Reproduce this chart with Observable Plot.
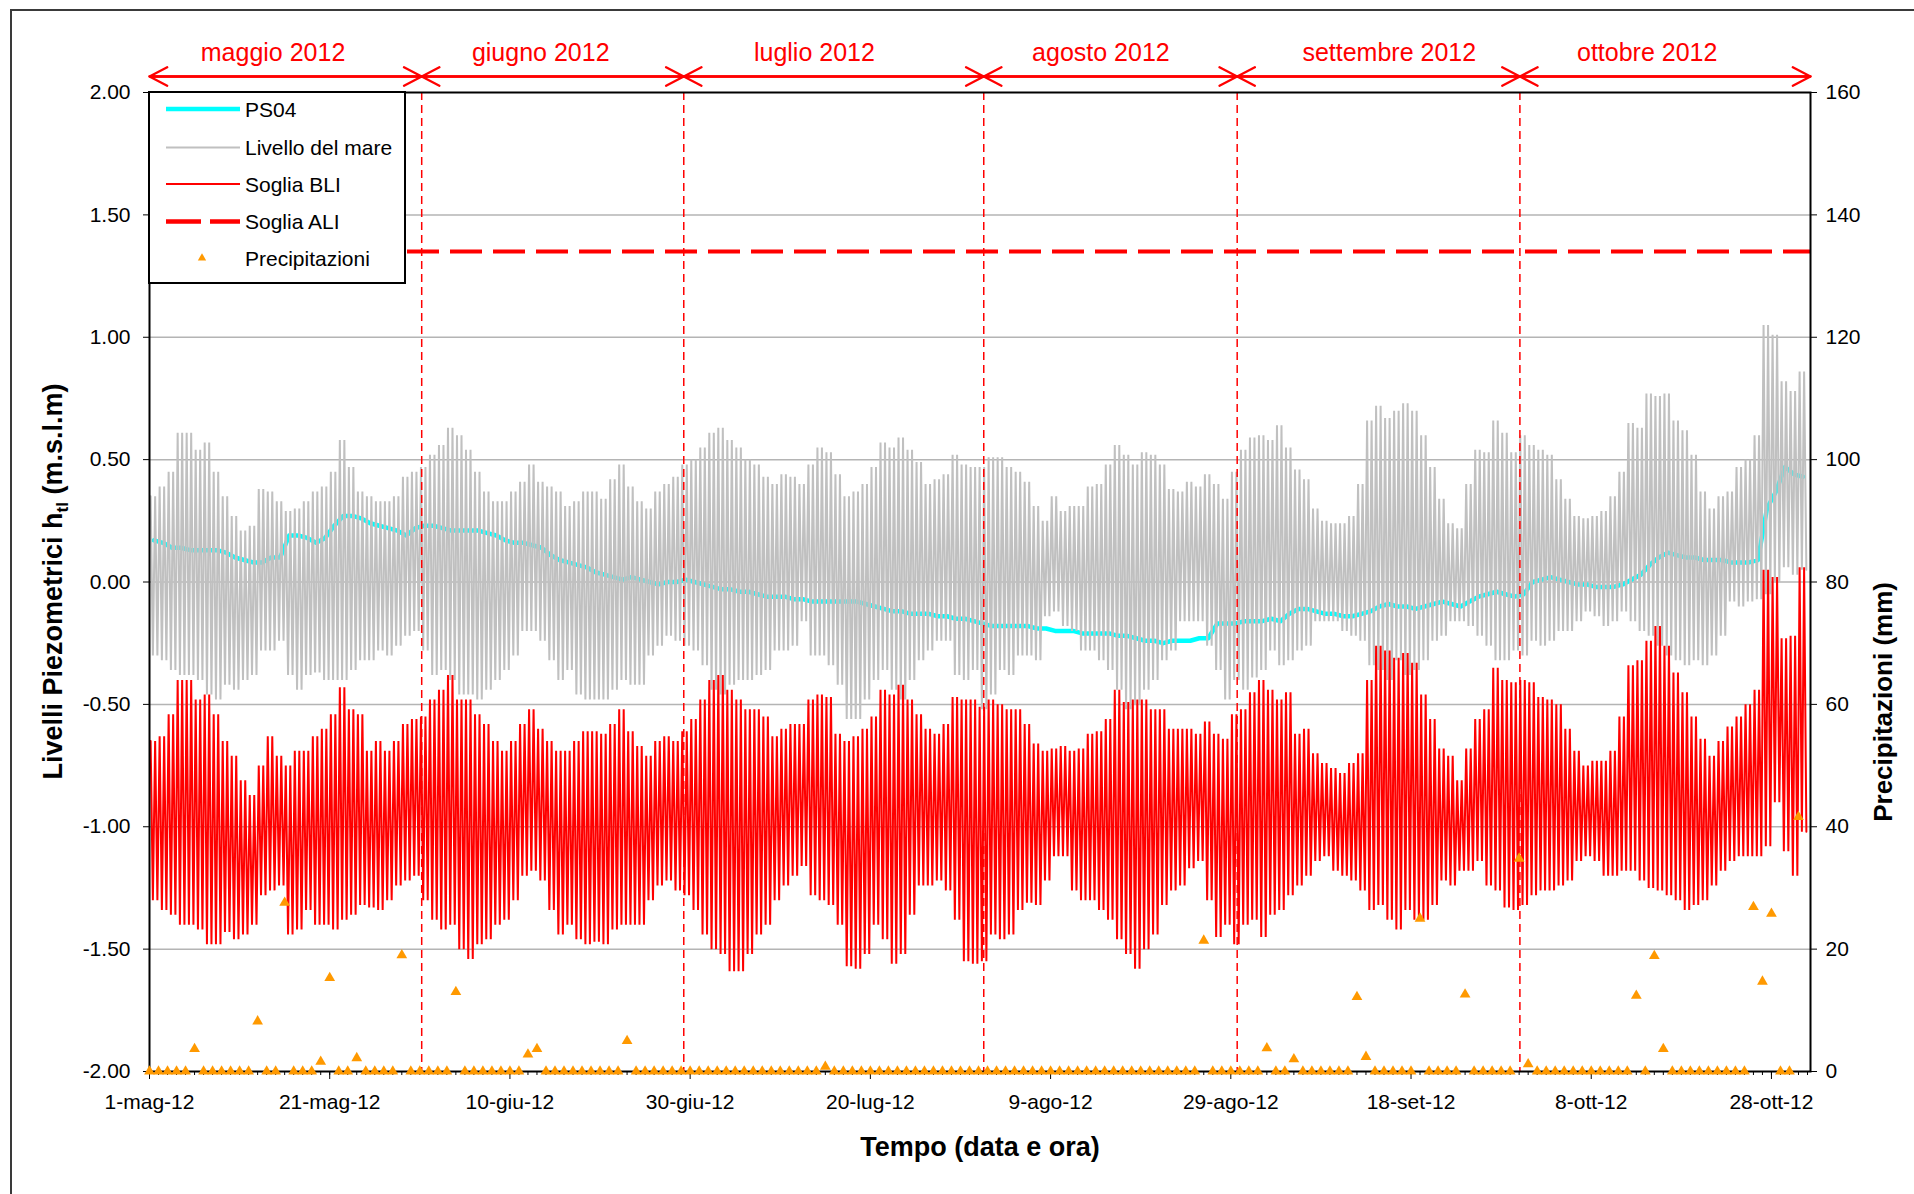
<!DOCTYPE html>
<html>
<head>
<meta charset="utf-8">
<script src="https://cdn.jsdelivr.net/npm/d3@7"></script>
<script src="https://cdn.jsdelivr.net/npm/@observablehq/plot@0.6"></script>
<style>
html, body { margin: 0; padding: 0; background: #fff; }
#wrap { position: relative; width: 1914px; height: 1194px; overflow: hidden; background: #fff; }
#border { position: absolute; left: 10px; top: 9px; width: 3000px; height: 3000px;
  border-left: 2.5px solid #3a3a3a; border-top: 2.5px solid #3a3a3a; pointer-events: none; }
#legend { position: absolute; left: 148px; top: 91px; }
</style>
</head>
<body>
<div id="wrap"><div id="chart"></div><svg id="legend" width="260" height="195"></svg><div id="border"></div></div>
<script>
// ---------- data ----------
const startDay = "2012-05-01T00:00Z";
const domainEnd = "2012-11-01T08:00Z";
const monthAbbr = ["gen","feb","mar","apr","mag","giu","lug","ago","set","ott","nov","dic"];
const tickDates = ["2012-05-01","2012-05-21","2012-06-10","2012-06-30","2012-07-20","2012-08-09","2012-08-29","2012-09-18","2012-10-08","2012-10-28"];
const yTicks = [-2, -1.5, -1, -0.5, 0, 0.5, 1, 1.5, 2];
const precipTicks = [0, 20, 40, 60, 80, 100, 120, 140, 160];
const yDomain = [-2, 2];
const precipDomain = [0, 160];
const monthNames = ["maggio 2012","giugno 2012","luglio 2012","agosto 2012","settembre 2012","ottobre 2012"];
const monthLabelAt = ["2012-05-14T17:00Z","2012-06-13T10:00Z","2012-07-13T19:00Z","2012-08-14T14:00Z","2012-09-15T14:00Z","2012-10-14T05:00Z"];
const monthBounds = ["2012-05-01T00:00Z","2012-05-31T05:00Z","2012-06-29T07:00Z","2012-08-01T14:00Z","2012-08-29T17:00Z","2012-09-30T02:00Z","2012-11-01T08:00Z"];
const aliLevel = 1.35;
const legendLabels = ["PS04","Livello del mare","Soglia BLI","Soglia ALI","Precipitazioni"];

// daily high / low of sea level (m), 1 May .. 31 Oct
const seaHi = [
0.35,0.39,0.45,0.61,0.61,0.54,0.57,0.45,0.35,0.27,
0.21,0.23,0.38,0.37,0.33,0.29,0.30,0.33,0.37,0.39,
0.45,0.58,0.47,0.37,0.35,0.33,0.33,0.35,0.43,0.45,
0.47,0.52,0.56,0.63,0.60,0.54,0.45,0.37,0.33,0.33,
0.37,0.41,0.48,0.41,0.39,0.37,0.31,0.33,0.37,0.37,
0.34,0.42,0.48,0.39,0.33,0.30,0.37,0.40,0.43,0.48,
0.50,0.55,0.61,0.63,0.58,0.55,0.50,0.48,0.43,0.40,
0.44,0.43,0.40,0.48,0.55,0.53,0.44,0.35,0.37,0.40,
0.47,0.57,0.55,0.59,0.54,0.49,0.40,0.42,0.44,0.52,
0.48,0.47,0.47,0.51,0.51,0.47,0.45,0.41,0.31,0.25,
0.35,0.29,0.31,0.31,0.39,0.40,0.48,0.56,0.52,0.48,
0.53,0.52,0.48,0.38,0.37,0.41,0.39,0.44,0.40,0.34,
0.45,0.54,0.59,0.60,0.58,0.64,0.55,0.46,0.42,0.30,
0.25,0.24,0.24,0.27,0.40,0.66,0.72,0.67,0.70,0.73,
0.70,0.60,0.47,0.34,0.24,0.22,0.40,0.54,0.53,0.66,
0.61,0.53,0.60,0.56,0.54,0.52,0.42,0.34,0.27,0.26,
0.27,0.29,0.35,0.45,0.65,0.63,0.77,0.76,0.77,0.66,
0.62,0.52,0.37,0.30,0.35,0.37,0.47,0.50,0.60,1.05,
1.01,0.82,0.78,0.86];
const seaLo = [
-0.30,-0.32,-0.36,-0.38,-0.38,-0.40,-0.46,-0.48,-0.42,-0.44,
-0.40,-0.38,-0.28,-0.28,-0.24,-0.38,-0.44,-0.38,-0.37,-0.40,
-0.40,-0.40,-0.36,-0.32,-0.32,-0.28,-0.30,-0.26,-0.22,-0.20,
-0.28,-0.38,-0.36,-0.40,-0.46,-0.46,-0.48,-0.44,-0.40,-0.36,
-0.30,-0.20,-0.20,-0.24,-0.32,-0.40,-0.36,-0.46,-0.48,-0.48,
-0.48,-0.44,-0.40,-0.42,-0.42,-0.30,-0.26,-0.22,-0.24,-0.26,
-0.28,-0.34,-0.44,-0.46,-0.42,-0.40,-0.40,-0.38,-0.36,-0.28,
-0.28,-0.26,-0.16,-0.30,-0.30,-0.34,-0.42,-0.56,-0.56,-0.48,
-0.40,-0.36,-0.44,-0.48,-0.40,-0.32,-0.28,-0.24,-0.24,-0.38,
-0.40,-0.36,-0.52,-0.46,-0.36,-0.38,-0.30,-0.30,-0.32,-0.14,
-0.12,-0.18,-0.20,-0.28,-0.28,-0.32,-0.36,-0.44,-0.52,-0.50,
-0.44,-0.40,-0.32,-0.28,-0.16,-0.16,-0.16,-0.26,-0.36,-0.48,
-0.40,-0.44,-0.39,-0.36,-0.28,-0.34,-0.32,-0.28,-0.26,-0.16,
-0.16,-0.16,-0.20,-0.22,-0.24,-0.34,-0.36,-0.40,-0.32,-0.38,
-0.36,-0.32,-0.24,-0.22,-0.16,-0.16,-0.18,-0.22,-0.26,-0.32,
-0.32,-0.28,-0.30,-0.24,-0.26,-0.24,-0.20,-0.20,-0.16,-0.12,
-0.14,-0.18,-0.16,-0.12,-0.16,-0.20,-0.22,-0.26,-0.30,-0.32,
-0.34,-0.32,-0.34,-0.30,-0.22,-0.08,-0.10,-0.08,-0.07,-0.05,
0.00,0.06,0.03,0.05];
// daily high / low of Soglia BLI (m)
const bliHi = [
-0.65,-0.63,-0.54,-0.40,-0.40,-0.48,-0.46,-0.54,-0.65,-0.71,
-0.81,-0.87,-0.75,-0.63,-0.71,-0.75,-0.69,-0.69,-0.63,-0.60,
-0.54,-0.43,-0.52,-0.54,-0.69,-0.65,-0.69,-0.65,-0.58,-0.56,
-0.55,-0.48,-0.44,-0.38,-0.48,-0.48,-0.54,-0.58,-0.65,-0.69,
-0.65,-0.58,-0.52,-0.60,-0.65,-0.69,-0.69,-0.65,-0.61,-0.61,
-0.62,-0.58,-0.52,-0.61,-0.67,-0.71,-0.65,-0.63,-0.65,-0.61,
-0.56,-0.48,-0.40,-0.38,-0.44,-0.48,-0.52,-0.52,-0.55,-0.63,
-0.60,-0.58,-0.58,-0.48,-0.46,-0.47,-0.62,-0.65,-0.63,-0.60,
-0.55,-0.44,-0.46,-0.42,-0.48,-0.54,-0.60,-0.62,-0.58,-0.47,
-0.48,-0.48,-0.51,-0.48,-0.50,-0.52,-0.52,-0.58,-0.66,-0.69,
-0.68,-0.67,-0.69,-0.68,-0.62,-0.61,-0.56,-0.44,-0.49,-0.48,
-0.48,-0.52,-0.52,-0.60,-0.60,-0.60,-0.62,-0.57,-0.62,-0.64,
-0.54,-0.52,-0.45,-0.40,-0.44,-0.48,-0.45,-0.62,-0.60,-0.70,
-0.74,-0.76,-0.78,-0.74,-0.70,-0.40,-0.26,-0.28,-0.31,-0.29,
-0.33,-0.46,-0.56,-0.68,-0.71,-0.81,-0.68,-0.56,-0.52,-0.35,
-0.40,-0.41,-0.40,-0.41,-0.47,-0.48,-0.50,-0.60,-0.69,-0.75,
-0.73,-0.73,-0.69,-0.55,-0.34,-0.32,-0.24,-0.18,-0.26,-0.37,
-0.45,-0.55,-0.64,-0.71,-0.65,-0.59,-0.55,-0.50,-0.44,0.05,
0.02,-0.23,-0.22,0.06];
const bliLo = [
-1.30,-1.34,-1.36,-1.40,-1.40,-1.42,-1.48,-1.48,-1.43,-1.46,
-1.44,-1.40,-1.28,-1.26,-1.24,-1.44,-1.42,-1.34,-1.40,-1.40,
-1.42,-1.38,-1.36,-1.32,-1.33,-1.34,-1.30,-1.24,-1.22,-1.20,
-1.30,-1.38,-1.42,-1.40,-1.50,-1.54,-1.48,-1.46,-1.40,-1.38,
-1.30,-1.20,-1.18,-1.22,-1.34,-1.44,-1.40,-1.46,-1.48,-1.47,
-1.48,-1.42,-1.40,-1.40,-1.40,-1.30,-1.24,-1.22,-1.26,-1.28,
-1.34,-1.44,-1.50,-1.52,-1.59,-1.59,-1.52,-1.44,-1.40,-1.30,
-1.24,-1.20,-1.16,-1.28,-1.30,-1.32,-1.40,-1.57,-1.58,-1.52,
-1.40,-1.46,-1.56,-1.52,-1.36,-1.24,-1.24,-1.22,-1.26,-1.38,
-1.55,-1.56,-1.55,-1.44,-1.46,-1.44,-1.34,-1.31,-1.32,-1.22,
-1.12,-1.12,-1.26,-1.30,-1.30,-1.34,-1.38,-1.46,-1.52,-1.58,
-1.50,-1.44,-1.32,-1.26,-1.24,-1.17,-1.14,-1.30,-1.45,-1.40,
-1.48,-1.40,-1.38,-1.45,-1.36,-1.34,-1.28,-1.24,-1.20,-1.14,
-1.12,-1.18,-1.20,-1.22,-1.26,-1.34,-1.32,-1.38,-1.42,-1.34,
-1.38,-1.38,-1.32,-1.22,-1.24,-1.18,-1.18,-1.14,-1.24,-1.26,
-1.33,-1.34,-1.32,-1.28,-1.26,-1.26,-1.24,-1.22,-1.14,-1.12,
-1.14,-1.20,-1.20,-1.18,-1.18,-1.22,-1.25,-1.26,-1.28,-1.30,
-1.34,-1.32,-1.30,-1.24,-1.18,-1.14,-1.12,-1.12,-1.12,-1.08,
-0.90,-1.10,-1.20,-1.02];
// daily piezometric level PS04 (m)
const ps04 = [
0.17,0.16,0.14,0.14,0.13,0.13,0.13,0.13,0.12,0.10,
0.09,0.08,0.08,0.10,0.10,0.19,0.19,0.18,0.16,0.18,
0.23,0.27,0.27,0.26,0.24,0.23,0.22,0.21,0.19,0.22,
0.23,0.23,0.22,0.21,0.21,0.21,0.21,0.20,0.19,0.17,
0.16,0.16,0.15,0.14,0.11,0.09,0.08,0.07,0.06,0.04,
0.03,0.02,0.01,0.02,0.01,0.00,-0.01,0.00,0.00,0.01,
0.00,-0.01,-0.02,-0.03,-0.03,-0.04,-0.04,-0.05,-0.06,-0.06,
-0.06,-0.07,-0.07,-0.08,-0.08,-0.08,-0.08,-0.08,-0.08,-0.09,
-0.10,-0.11,-0.12,-0.12,-0.13,-0.13,-0.13,-0.14,-0.14,-0.15,
-0.15,-0.16,-0.17,-0.18,-0.18,-0.18,-0.18,-0.18,-0.19,-0.19,
-0.20,-0.20,-0.20,-0.21,-0.21,-0.21,-0.21,-0.22,-0.22,-0.23,
-0.24,-0.24,-0.25,-0.24,-0.24,-0.24,-0.23,-0.23,-0.17,-0.17,
-0.17,-0.16,-0.16,-0.16,-0.15,-0.16,-0.13,-0.11,-0.11,-0.12,
-0.13,-0.13,-0.14,-0.14,-0.13,-0.12,-0.10,-0.09,-0.10,-0.10,
-0.11,-0.10,-0.09,-0.08,-0.09,-0.10,-0.08,-0.06,-0.05,-0.04,
-0.05,-0.06,-0.05,0.00,0.01,0.02,0.01,0.00,-0.01,-0.01,
-0.02,-0.02,-0.02,-0.01,0.01,0.03,0.07,0.10,0.12,0.11,
0.10,0.10,0.09,0.09,0.09,0.08,0.08,0.08,0.09,0.30,
0.37,0.47,0.44,0.43];
// daily precipitation (mm)
const precip = [
0,0,0,0,0,3.7,0,0,0,0,
0,0,8.2,0,0,27.6,0,0,0,1.6,
15.3,0,0,2.2,0,0,0,0,19,0,
0,0,0,0,13,0,0,0,0,0,
0,0,2.8,3.7,0,0,0,0,0,0,
0,0,0,5,0,0,0,0,0,0,
0,0,0,0,0,0,0,0,0,0,
0,0,0,0,0,0.8,0,0,0,0,
0,0,0,0,0,0,0,0,0,0,
0,0,0,0,0,0,0,0,0,0,
0,0,0,0,0,0,0,0,0,0,
0,0,0,0,0,0,0,21.4,0,0,
0,0,0,0,3.8,0,0,2,0,0,
0,0,0,0,12.2,2.4,0,0,0,0,
0,25,0,0,0,0,12.6,0,0,0,
0,0,34.8,1.2,0,0,0,0,0,0,
0,0,0,0,0,12.4,0,18.9,3.7,0,
0,0,0,0,0,0,0,0,26.9,14.7,
25.8,0,0,41.6];

// ---------- build tables ----------
const DAY = 864e5;
const t0 = Date.parse(startDay);
const tEnd = Date.parse(domainEnd);
const at = (d, f) => new Date(t0 + (d + f) * DAY);

// two tidal cycles per day drawn through the day's high and low readings
function tideTable(hi, lo) {
  const out = [];
  hi.forEach((h, d) => {
    out.push({t: at(d, 0.125), v: h});
    out.push({t: at(d, 0.375), v: lo[d]});
    out.push({t: at(d, 0.625), v: h});
    out.push({t: at(d, 0.875), v: lo[d]});
  });
  return out;
}
const seaData = tideTable(seaHi, seaLo);
const bliData = tideTable(bliHi, bliLo);
const psData = ps04.map((v, d) => ({t: at(d, 0.5), v}));
const precipScale = d3.scaleLinear().domain(precipDomain).range(yDomain);
const precipData = precip.map((p, d) => ({t: at(d, 0), y: precipScale(p)}));
const separators = monthBounds.slice(1, -1).map(s => new Date(s));
const bounds = monthBounds.map(s => new Date(s));
const fmtDate = d => `${d.getUTCDate()}-${monthAbbr[d.getUTCMonth()]}-${String(d.getUTCFullYear()).slice(2)}`;

const RED = "#ff0000", GRAY = "#c0c0c0", CYAN = "#00ffff", ORANGE = "#ff9900";
const FONT = "'Liberation Sans', Arial, Helvetica, sans-serif";

const chart = Plot.plot({
  width: 1914, height: 1194,
  marginLeft: 149, marginRight: 104, marginTop: 92, marginBottom: 123,
  x: {type: "utc", domain: [new Date(t0), new Date(tEnd)]},
  y: {domain: yDomain},
  style: {fontFamily: FONT, fontSize: "21px", background: "transparent", color: "#000", overflow: "visible"},
  marks: [
    Plot.gridY(yTicks.slice(1, -1), {stroke: "#b4b4b4", strokeOpacity: 1, strokeWidth: 1.5}),
    Plot.line(psData, {x: "t", y: "v", stroke: CYAN, strokeWidth: 4.5}),
    Plot.line(seaData, {x: "t", y: "v", stroke: GRAY, strokeWidth: 2, strokeLinejoin: "miter", strokeMiterlimit: 1}),
    Plot.line(bliData, {x: "t", y: "v", stroke: RED, strokeWidth: 2, strokeLinejoin: "miter", strokeMiterlimit: 1}),
    Plot.ruleY([aliLevel], {stroke: RED, strokeWidth: 4, strokeDasharray: "32,11"}),
    Plot.ruleX(separators, {stroke: RED, strokeWidth: 1.5, strokeDasharray: "8,5"}),
    Plot.frame({stroke: "#000", strokeWidth: 2}),
    Plot.axisY(yTicks, {anchor: "left", tickSize: 6, tickPadding: 13, tickFormat: d => d.toFixed(2), label: null}),
    Plot.axisY(precipTicks.map(p => precipScale(p)), {anchor: "right", tickSize: 6, tickPadding: 9,
      tickFormat: y => String(Math.round(precipScale.invert(y))), label: null}),
    Plot.axisX(d3.utcDay.range(new Date(t0), new Date(tEnd)), {tickSize: 4, tickFormat: () => "", label: null}),
    Plot.axisX(tickDates.map(s => new Date(s + "T00:00Z")), {tickSize: 8, tickPadding: 15, tickFormat: fmtDate, label: null}),
    Plot.dot(precipData, {x: "t", y: "y", symbol: "triangle", r: 4, fill: ORANGE}),
    // month header
    Plot.text(monthNames, {x: (d, i) => new Date(monthLabelAt[i]), text: d => d, frameAnchor: "top", dy: -40,
      fill: RED, fontSize: 25, lineAnchor: "middle"}),
    Plot.arrow(monthNames, {x1: (d, i) => bounds[i], x2: (d, i) => bounds[i + 1], y1: () => yDomain[1], y2: () => yDomain[1],
      dy: -16, stroke: RED, strokeWidth: 2.3, headLength: 13, headAngle: 55}),
    Plot.arrow(monthNames, {x1: (d, i) => bounds[i + 1], x2: (d, i) => bounds[i], y1: () => yDomain[1], y2: () => yDomain[1],
      dy: -16, stroke: RED, strokeWidth: 2.3, headLength: 13, headAngle: 55}),
    // axis titles
    Plot.text(["Tempo (data e ora)"], {text: d => d, frameAnchor: "bottom", dy: 76, fontWeight: "bold", fontSize: 27, lineAnchor: "middle"}),
    Plot.text(["Precipitazioni (mm)"], {text: d => d, frameAnchor: "right", dx: 73, rotate: -90, fontWeight: "bold", fontSize: 26, lineAnchor: "middle"})
  ]
});
document.getElementById("chart").appendChild(chart);

// left title with subscript
const ytitle = d3.select(chart).append("text")
  .attr("transform", `translate(53,${(92 + 1194 - 123) / 2}) rotate(-90)`)
  .attr("text-anchor", "middle").attr("dominant-baseline", "central")
  .attr("font-family", FONT).attr("font-weight", "bold").attr("font-size", 27).attr("fill", "#000");
ytitle.append("tspan").text("Livelli Piezometrici h");
ytitle.append("tspan").attr("font-size", 17).attr("baseline-shift", "sub").text("tl");
ytitle.append("tspan").text("\u00a0(m.s.l.m)");

// legend
const lg = d3.select("#legend");
lg.append("rect").attr("x", 1).attr("y", 1).attr("width", 256).attr("height", 191)
  .attr("fill", "#fff").attr("stroke", "#000").attr("stroke-width", 2);
const rowY = [18, 56.5, 93, 130.5, 167];
const swatch = [
  {stroke: CYAN, w: 4.5, dash: null},
  {stroke: GRAY, w: 2, dash: null},
  {stroke: RED, w: 2, dash: null},
  {stroke: RED, w: 4.5, dash: "35,9"},
  null
];
legendLabels.forEach((name, i) => {
  const y = rowY[i];
  if (swatch[i]) {
    lg.append("line").attr("x1", 18).attr("x2", 92).attr("y1", y).attr("y2", y)
      .attr("stroke", swatch[i].stroke).attr("stroke-width", swatch[i].w)
      .attr("stroke-dasharray", swatch[i].dash);
  } else {
    lg.append("path").attr("transform", `translate(54,${y})`)
      .attr("d", d3.symbol(d3.symbolTriangle, 30)()).attr("fill", ORANGE);
  }
  lg.append("text").attr("x", 97).attr("y", y).attr("dominant-baseline", "central")
    .attr("font-family", FONT).attr("font-size", 21).attr("fill", "#000").text(name);
});
</script>
</body>
</html>
